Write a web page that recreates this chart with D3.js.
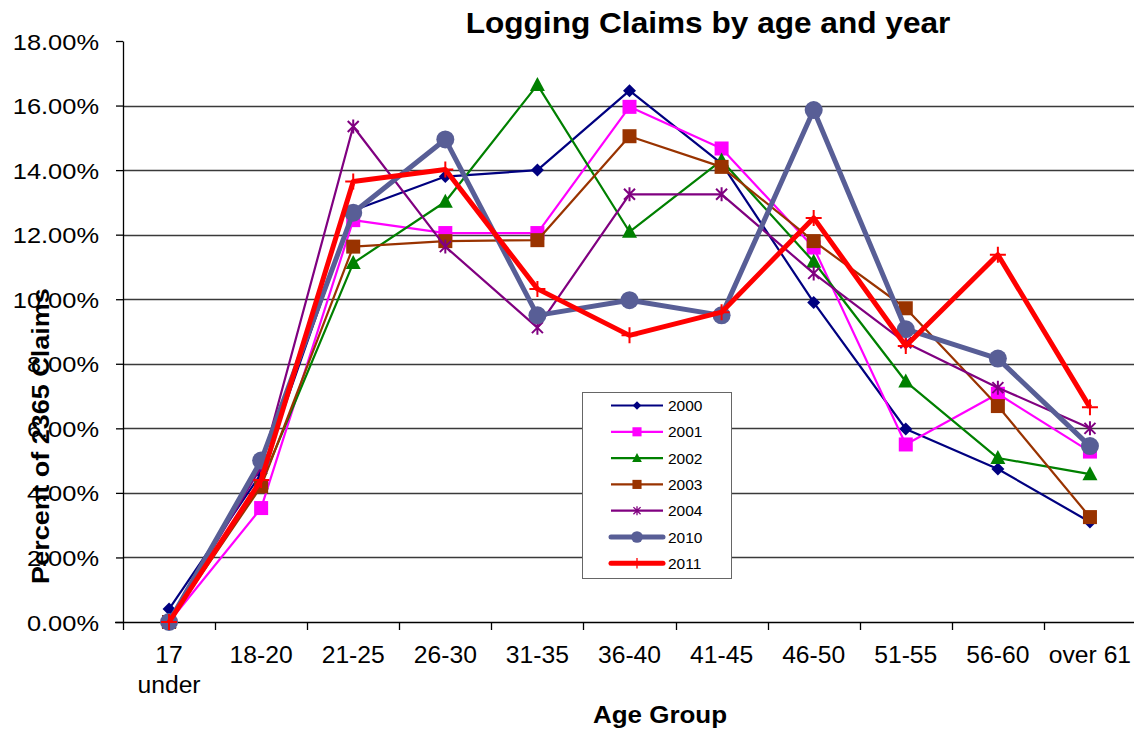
<!DOCTYPE html>
<html>
<head>
<meta charset="utf-8">
<script src="https://cdnjs.cloudflare.com/ajax/libs/d3/7.8.5/d3.min.js"></script>
<style>
  body { margin: 0; background: #fff; }
  svg { display: block; font-family: "Liberation Sans", Arial, sans-serif; }
</style>
</head>
<body>
<div id="chartBox"></div>
<script>
// age groups and the two-line tick labels under the axis
var categories = ["17 under", "18-20", "21-25", "26-30", "31-35", "36-40", "41-45", "46-50", "51-55", "56-60", "over 61"];
var tickLines = [["17", "under"], ["18-20"], ["21-25"], ["26-30"], ["31-35"], ["36-40"], ["41-45"], ["46-50"], ["51-55"], ["56-60"], ["over 61"]];
var yTicks = [0, 0.02, 0.04, 0.06, 0.08, 0.10, 0.12, 0.14, 0.16, 0.18];

// percent of claims, one array per year
var years = ["2000", "2001", "2002", "2003", "2004", "2010", "2011"];
var v2000 = [0.4, 4.6, 12.75, 13.8, 14.0, 16.46, 14.2, 9.9, 5.98, 4.74, 3.1];
var v2001 = [0.0, 3.53, 12.45, 12.05, 12.05, 15.96, 14.67, 11.6, 5.5, 7.07, 5.28];
var v2002 = [0.0, 4.3, 11.12, 13.02, 16.64, 12.09, 14.3, 11.16, 7.45, 5.08, 4.58];
var v2003 = [0.0, 4.2, 11.63, 11.8, 11.83, 15.05, 14.1, 11.8, 9.72, 6.69, 3.25];
var v2004 = [0.0, 4.8, 15.35, 11.63, 9.12, 13.25, 13.25, 10.8, 8.65, 7.26, 6.0];
var v2010 = [0.0, 5.0, 12.68, 14.95, 9.5, 9.97, 9.5, 15.86, 9.07, 8.16, 5.45];
var v2011 = [0.0, 4.4, 13.65, 14.02, 10.32, 8.88, 9.6, 12.52, 8.55, 11.38, 6.65];

var seriesValues = [v2000, v2001, v2002, v2003, v2004, v2010, v2011];
var seriesColors = ["#000080", "#ff00ff", "#008000", "#993300", "#800080", "#585e96", "#ff0000"];
var seriesMarkers = ["diamond", "square", "triangle", "square", "asterisk", "circle", "plus"];
var seriesWidths = [2.2, 2.2, 2.2, 2.2, 2.2, 5, 5];

var w = 1134;
var h = 731;
var plotLeft = 123, plotRight = 1136, plotTop = 41, plotBottom = 622;

var svg = d3.select("#chartBox")
  .append("svg")
  .attr("width", w)
  .attr("height", h);

var x = d3.scalePoint()
  .domain(categories)
  .range([plotLeft, plotRight])
  .padding(0.5);

var xBand = d3.scaleBand()
  .domain(categories)
  .range([plotLeft, plotRight]);

var y = d3.scaleLinear()
  .domain([0, 0.18])
  .range([plotBottom, plotTop]);

// put a horizontally stretched text at (px, py)
function stretchText(g, str, px, py, size, sx, weight, anchor) {
  return g.append("text")
    .attr("transform", "translate(" + px + "," + py + ") scale(" + sx + ",1)")
    .attr("text-anchor", anchor || "middle")
    .style("font-size", size + "px")
    .style("font-weight", weight || "normal")
    .style("fill", "#000")
    .text(str);
}

// gridlines
svg.append("g")
  .attr("class", "grid")
  .selectAll("line")
  .data(yTicks.filter(function(d) { return d > 0 && d < 0.18; }))
  .enter()
    .append("line")
    .attr("x1", plotLeft)
    .attr("x2", w)
    .attr("y1", function(d) { return Math.round(y(d)) + 0.5; })
    .attr("y2", function(d) { return Math.round(y(d)) + 0.5; })
    .style("stroke", "#3a3a3a")
    .style("stroke-width", 1.4);

// y axis
var yAxis = svg.append("g")
  .attr("transform", "translate(" + plotLeft + ",0)")
  .call(d3.axisLeft(y)
    .tickValues(yTicks)
    .tickFormat(d3.format(".2%"))
    .tickSize(7)
    .tickSizeOuter(0));

yAxis.select(".domain").style("stroke", "#000").style("stroke-width", 1.3);
yAxis.selectAll(".tick line").style("stroke", "#000").style("stroke-width", 1.3);
yAxis.selectAll(".tick text")
  .attr("x", null)
  .attr("dy", null)
  .attr("transform", "translate(-24,8) scale(1.13,1)")
  .style("font-size", "22.5px")
  .style("font-family", "'Liberation Sans', Arial, sans-serif")
  .style("fill", "#000");

// x axis
var xAxis = svg.append("g").attr("class", "x-axis");
xAxis.append("line")
  .attr("x1", 115)
  .attr("x2", w)
  .attr("y1", plotBottom + 0.5)
  .attr("y2", plotBottom + 0.5)
  .style("stroke", "#000")
  .style("stroke-width", 1.4);

var edges = categories.map(function(c) { return xBand(c); }).concat([plotRight]);
xAxis.selectAll("line.tick")
  .data(edges)
  .enter()
    .append("line")
    .attr("class", "tick")
    .attr("x1", function(d) { return Math.round(d) + 0.5; })
    .attr("x2", function(d) { return Math.round(d) + 0.5; })
    .attr("y1", plotBottom)
    .attr("y2", plotBottom + 8)
    .style("stroke", "#000")
    .style("stroke-width", 1.3);

categories.forEach(function(c, i) {
  tickLines[i].forEach(function(line, j) {
    stretchText(xAxis, line, x(c), 663 + j * 30, 23.5, 1.05);
  });
});

// titles
stretchText(svg, "Logging Claims by age and year", 708, 33, 29, 1.09, "bold");
stretchText(svg, "Age Group", 660, 723, 23, 1.13, "bold");
svg.append("text")
  .attr("transform", "translate(49,436) rotate(-90) scale(1.15,1)")
  .attr("text-anchor", "middle")
  .style("font-size", "23.5px")
  .style("font-weight", "bold")
  .text("Percent of 2365 Claims");

// markers
function drawMarker(g, type, color) {
  if (type === "diamond") {
    g.append("path").attr("d", "M0,-6.5L6.5,0L0,6.5L-6.5,0Z").style("fill", color);
  } else if (type === "square") {
    g.append("rect").attr("x", -7).attr("y", -7).attr("width", 14).attr("height", 14).style("fill", color);
  } else if (type === "triangle") {
    g.append("path").attr("d", "M0,-8L7.5,6L-7.5,6Z").style("fill", color);
  } else if (type === "circle") {
    g.append("circle").attr("r", 9).style("fill", color);
  } else if (type === "asterisk") {
    g.append("path").attr("d", "M-5.5,-5.5L5.5,5.5M-5.5,5.5L5.5,-5.5M0,-7L0,7")
      .style("stroke", color).style("stroke-width", 2).style("fill", "none");
  } else if (type === "plus") {
    g.append("path").attr("d", "M-8,0L8,0M0,-8L0,8")
      .style("stroke", color).style("stroke-width", 2).style("fill", "none");
  }
}

var line = d3.line()
  .x(function(d, i) { return x(categories[i]); })
  .y(function(d) { return y(d / 100); });

var series = svg.append("g")
  .attr("class", "series")
  .selectAll("g")
  .data(seriesValues)
  .enter()
    .append("g");

series.each(function(vals, s) {
  var g = d3.select(this);
  g.append("path")
    .attr("d", line(vals))
    .style("fill", "none")
    .style("stroke", seriesColors[s])
    .style("stroke-width", seriesWidths[s])
    .style("stroke-linejoin", "round");
  vals.forEach(function(v, i) {
    var m = g.append("g")
      .attr("transform", "translate(" + x(categories[i]) + "," + y(v / 100) + ")");
    drawMarker(m, seriesMarkers[s], seriesColors[s]);
  });
});

// legend
var legend = svg.append("g").attr("class", "legend");
legend.append("rect")
  .attr("x", 582.5)
  .attr("y", 392.5)
  .attr("width", 149)
  .attr("height", 186)
  .style("fill", "#fff")
  .style("stroke", "#666")
  .style("stroke-width", 1);

years.forEach(function(yr, s) {
  var ry = 405.5 + s * 26.3;
  legend.append("line")
    .attr("x1", 611)
    .attr("x2", 663)
    .attr("y1", ry)
    .attr("y2", ry)
    .style("stroke", seriesColors[s])
    .style("stroke-width", seriesWidths[s])
    .style("stroke-linecap", seriesWidths[s] > 3 ? "round" : "butt");
  var m = legend.append("g")
    .attr("transform", "translate(637," + ry + ") scale(0.65)");
  drawMarker(m, seriesMarkers[s], seriesColors[s]);
  legend.append("text")
    .attr("x", 668)
    .attr("y", ry + 5.5)
    .style("font-size", "15.5px")
    .text(yr);
});
</script>
</body>
</html>
